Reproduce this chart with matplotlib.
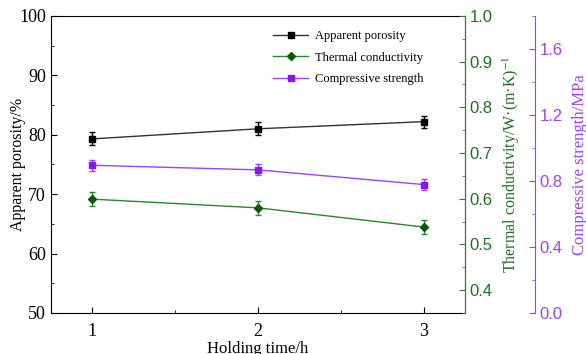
import matplotlib.pyplot as plt
from matplotlib.ticker import MultipleLocator

plt.rcParams['mathtext.fontset'] = 'stix'

# Data
hours = [1, 2, 3]
porosity = [79.3, 81.0, 82.2]
porosity_err = [1.1, 1.1, 1.0]
conductivity = [0.599, 0.580, 0.538]
conductivity_err = [0.016, 0.016, 0.016]
strength = [0.895, 0.867, 0.778]
strength_err = [0.034, 0.034, 0.034]

green = '#2a862a'
green_mk = '#005a00'
green_txt = '#1d701d'
purple = '#a040ff'
purple_mk = '#8c10ff'
serif = 'Liberation Serif'
sans = 'Liberation Sans'

fig = plt.figure(figsize=(5.86, 3.54), dpi=100)
ax1 = fig.add_axes([0.087, 0.116, 0.7065, 0.839])

ax1.errorbar(hours, porosity, yerr=porosity_err, color='#333333', lw=1,
             marker='s', ms=5, mfc='black', mec='black', ecolor='black',
             elinewidth=1, capsize=2.5, label='Apparent porosity')
ax1.set_xlim(0.75, 3.25)
ax1.set_ylim(50, 100)
ax1.set_xticks(hours)
ax1.xaxis.set_minor_locator(MultipleLocator(0.5))
ax1.yaxis.set_major_locator(MultipleLocator(10))
ax1.yaxis.set_minor_locator(MultipleLocator(5))
ax1.tick_params(which='both', direction='in', right=False, top=False,
                labelsize=13, labelfontfamily=serif)
ax1.tick_params(which='major', length=4)
ax1.tick_params(which='minor', length=2.5)
ax1.tick_params(axis='x', pad=7)
ax1.set_ylabel('Apparent porosity/%', fontsize=11.5, family=serif)
ax1.yaxis.set_label_coords(-0.06, 0.5)
ax1.set_xlabel('Holding time/h', fontsize=12, family=serif)
ax1.xaxis.set_label_coords(0.5, -0.095)
ax1.xaxis.label.set_va('top')

# Thermal conductivity axis
ax2 = ax1.twinx()
ax2.errorbar(hours, conductivity, yerr=conductivity_err, color=green, lw=1,
             marker='D', ms=4.5, mfc=green_mk, mec=green_mk, ecolor=green,
             elinewidth=1, capsize=2.5, label='Thermal conductivity')
ax2.set_ylim(0.35, 1.0)
ax2.yaxis.set_major_locator(MultipleLocator(0.1))
ax2.yaxis.set_minor_locator(MultipleLocator(0.05))
ax2.spines['right'].set_color(green)
ax2.tick_params(axis='y', which='both', direction='in', colors=green,
                labelcolor=green_txt, labelsize=12, labelfontfamily=sans)
ax2.tick_params(axis='y', which='major', length=4)
ax2.tick_params(axis='y', which='minor', length=2.5)
ax2.set_ylabel('Thermal conductivity/W·(m·K)$^{-1}$', color=green_txt,
               fontsize=11.5, family=serif)
ax2.yaxis.set_label_coords(1.087, 0.5)

# Compressive strength axis
ax3 = ax1.twinx()
ax3.spines['right'].set_position(('axes', 1.169))
ax3.errorbar(hours, strength, yerr=strength_err, color=purple, lw=1,
             marker='s', ms=5, mfc=purple_mk, mec=purple_mk, ecolor=purple,
             elinewidth=1, capsize=2.5, label='Compressive strength')
ax3.set_ylim(0, 1.8)
ax3.yaxis.set_major_locator(MultipleLocator(0.4))
ax3.yaxis.set_minor_locator(MultipleLocator(0.2))
ax3.spines['right'].set_color(purple)
ax3.tick_params(axis='y', which='both', direction='in', colors=purple,
                labelsize=12, labelfontfamily=sans)
ax3.tick_params(axis='y', which='major', length=4)
ax3.tick_params(axis='y', which='minor', length=2.5)
ax3.set_ylabel('Compressive strength/MPa', color=purple, fontsize=12,
               family=serif)
ax3.yaxis.set_label_coords(1.258, 0.5)

for ax in (ax2, ax3):
    ax.spines['left'].set_visible(False)
    ax.spines['top'].set_visible(False)
    ax.spines['bottom'].set_visible(False)

handles = []
labels = []
for ax in (ax1, ax2, ax3):
    h, l = ax.get_legend_handles_labels()
    handles += h
    labels += l
handles = [h[0] for h in handles]
ax1.legend(handles, labels, loc='upper left', bbox_to_anchor=(0.51, 0.99),
           frameon=False, prop={'family': serif, 'size': 9},
           handlelength=2.8, labelspacing=0.75, handletextpad=0.5)

fig.savefig('out.png', dpi=100)
